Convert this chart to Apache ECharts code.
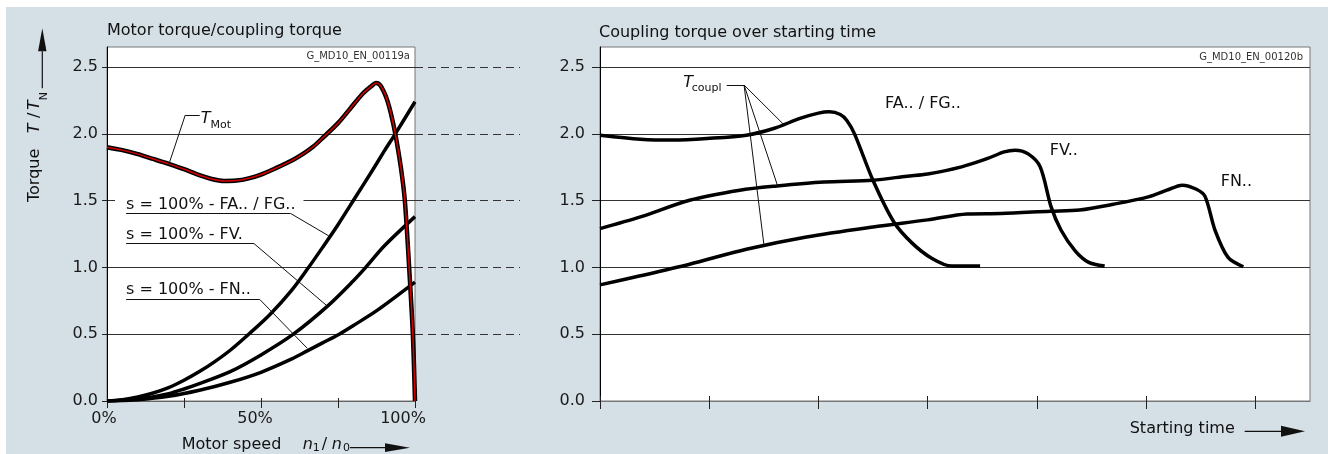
<!DOCTYPE html>
<html>
<head>
    <meta charset="utf-8">
    <title>Motor torque / coupling torque</title>
    <script src="https://cdn.jsdelivr.net/npm/echarts@6/dist/echarts.min.js"></script>
    <style>
        html, body { margin: 0; padding: 0; background: #fff; }
        #wrap { position: relative; width: 1328px; height: 454px; background: #fff; }
        #panel { position: absolute; left: 6px; top: 7px; width: 1322px; height: 447px; background: #d5dfe6; }
        #chart { position: absolute; left: 0; top: 0; width: 1328px; height: 454px; }
    </style>
</head>
<body>
<div id="wrap">
    <div id="panel"></div>
    <div id="chart"></div>
</div>

<script type="text/javascript">

    // ticks / labels
    var yTicks = [0, 0.5, 1.0, 1.5, 2.0, 2.5];
    var speedTicks = [0, 25, 50, 75, 100];
    var speedLabels = [0, 50, 100];
    var timeTicks = [0, 1, 2, 3, 4, 5, 6];

    // left: torque over motor speed n1/n0 (%), [speed, T/TN]
    var motorTorque = [[0, 1.90], [5, 1.878], [10, 1.848], [15, 1.812], [20, 1.775], [25, 1.735], [30, 1.69],
        [34, 1.662], [38, 1.647], [42, 1.65], [46, 1.667], [50, 1.695], [55, 1.745], [60, 1.80], [63, 1.84],
        [67, 1.905], [70.5, 1.98], [75, 2.08], [79, 2.19], [83, 2.30], [86, 2.36], [87.3, 2.38], [88.5, 2.37],
        [90, 2.31], [91, 2.25], [92.2, 2.15], [93.6, 2.0], [95.4, 1.75], [96.7, 1.5], [98.1, 1.0], [99.3, 0.5], [100, 0]];
    var couplFA = [[0, 0], [5, 0.01], [10, 0.03], [15, 0.06], [20, 0.10], [25, 0.155], [30, 0.22], [35, 0.295],
        [40, 0.38], [46, 0.50], [53, 0.65], [60, 0.83], [65.3, 0.995], [70, 1.15], [75, 1.32], [80.5, 1.52],
        [86, 1.72], [90, 1.87], [93.6, 2.0], [100, 2.24]];
    var couplFV = [[0, 0], [10, 0.015], [20, 0.055], [25, 0.09], [30, 0.13], [40, 0.22], [50, 0.345],
        [60.5, 0.50], [71.6, 0.71], [80, 0.90], [84, 1.0], [90, 1.16], [100, 1.38]];
    var couplFN = [[0, 0], [10, 0.01], [20, 0.035], [30, 0.08], [40, 0.14], [50, 0.215], [60, 0.315],
        [65, 0.375], [70, 0.435], [75.4, 0.50], [80, 0.565], [87.8, 0.68], [100, 0.89]];

    // right: coupling torque over starting time, [time, T/TN]
    var startFA = [[0, 1.99], [0.37, 1.96], [0.67, 1.953], [0.98, 1.965], [1.34, 1.99], [1.59, 2.04], [1.83, 2.115],
        [2.0, 2.155], [2.1, 2.165], [2.2, 2.145], [2.26, 2.10], [2.33, 2.0], [2.5, 1.65], [2.69, 1.34],
        [2.86, 1.18], [3.04, 1.067], [3.22, 1.01], [3.48, 1.01]];
    var startFV = [[0, 1.29], [0.37, 1.378], [0.82, 1.503], [1.28, 1.578], [1.62, 1.61], [2.05, 1.64], [2.5, 1.653],
        [2.81, 1.683], [3.0, 1.70], [3.31, 1.753], [3.55, 1.816], [3.7, 1.865], [3.8, 1.878], [3.92, 1.85],
        [4.03, 1.753], [4.13, 1.453], [4.22, 1.28], [4.35, 1.124], [4.47, 1.04], [4.62, 1.01]];
    var startFN = [[0, 0.869], [0.37, 0.937], [0.82, 1.024], [1.34, 1.136], [1.89, 1.228], [2.5, 1.303], [3.0, 1.356],
        [3.36, 1.40], [3.67, 1.404], [4.12, 1.421], [4.39, 1.43], [4.7, 1.473], [5.02, 1.528], [5.19, 1.578],
        [5.33, 1.616], [5.46, 1.585], [5.54, 1.53], [5.63, 1.28], [5.75, 1.075], [5.89, 1.005]];

    // leader lines for the annotations (data coordinates)
    var leaderMot = [[[30.1, 2.14], [25.4, 2.14], [20.0, 1.766]]];
    var leaderFA = [[[6.2, 1.404], [59.6, 1.404], [72.0, 1.236]]];
    var leaderFV = [[[6.2, 1.179], [47.7, 1.179], [71.6, 0.709]]];
    var leaderFN = [[[6.2, 0.76], [49.6, 0.76], [65.0, 0.395]]];
    var leaderCoupl = [[[1.16, 2.365], [1.319, 2.365], [1.688, 2.065]],
        [[1.319, 2.365], [1.624, 1.615]],
        [[1.319, 2.365], [1.502, 1.161]]];

    var FONT = 'DejaVu Sans';
    var INK = '#111';

    function leader(lines) {
        var data = [];
        lines.forEach(function (p) {
            for (var i = 0; i < p.length - 1; i++) {
                data.push([{coord: p[i]}, {coord: p[i + 1]}]);
            }
        });
        return {
            silent: true,
            animation: false,
            symbol: ['none', 'none'],
            label: {show: false},
            emphasis: {disabled: true},
            lineStyle: {color: INK, width: 1, type: 'solid'},
            data: data
        };
    }

    function curve(name, data, xi, yi, width, color, lines) {
        var s = {
            name: name,
            type: 'line',
            xAxisIndex: xi,
            yAxisIndex: yi,
            data: data,
            smooth: 0.3,
            symbol: 'none',
            silent: true,
            lineStyle: {color: color, width: width, join: 'round'}
        };
        if (lines) s.markLine = leader(lines);
        return s;
    }

    function txt(x, y, s, size, opt) {
        var style = {text: s, fontFamily: FONT, fontSize: size, fill: INK, align: 'left', verticalAlign: 'middle'};
        for (var k in opt) style[k] = opt[k];
        return {type: 'text', x: x, y: y, z: 100, silent: true, style: style};
    }

    function arrow(x1, y1, x2, y2, tip, half) {
        // line then filled head, head points from (x1,y1) to (x2,y2)
        var dx = x2 - x1, dy = y2 - y1, len = Math.sqrt(dx * dx + dy * dy);
        var ux = dx / len, uy = dy / len;
        var bx = x2 - ux * tip, by = y2 - uy * tip;
        return [
            {type: 'line', z: 100, silent: true, shape: {x1: x1, y1: y1, x2: bx, y2: by}, style: {stroke: INK, lineWidth: 1.2}},
            {type: 'polygon', z: 100, silent: true,
                shape: {points: [[x2, y2], [bx - uy * half, by + ux * half], [bx + uy * half, by - ux * half]]},
                style: {fill: INK}}
        ];
    }

    function yAxisFor(grid, tickLen, margin) {
        return {
            gridIndex: grid,
            type: 'value',
            min: 0,
            max: 2.65,
            interval: 0.5,
            axisLine: {show: true, lineStyle: {color: '#000', width: 1}},
            axisTick: {show: true, length: tickLen, customValues: yTicks, lineStyle: {color: '#222'}},
            axisLabel: {
                customValues: yTicks, margin: margin,
                fontFamily: FONT, fontSize: 16, color: '#1a1a1a',
                formatter: function (v) { return v.toFixed(1); }
            },
            splitLine: {show: true, showMinLine: false, lineStyle: {color: '#333', width: 1}}
        };
    }

    var chart = echarts.init(document.getElementById('chart'));

    var graphics = [
        txt(107, 31, 'Motor torque/coupling torque', 16),
        txt(599, 32.5, 'Coupling torque over starting time', 16),
        txt(410, 56.3, 'G_MD10_EN_00119a', 10, {align: 'right', fill: '#333'}),
        txt(1303, 57.8, 'G_MD10_EN_00120b', 10, {align: 'right', fill: '#333'}),

        txt(200.7, 119.2, 'T', 16, {fontStyle: 'italic'}),
        txt(210.5, 125, 'Mot', 11),
        txt(126, 234.9, 's = 100% - FV.', 16),
        txt(126, 290.2, 's = 100% - FN..', 16),

        txt(683.3, 82.9, 'T', 16, {fontStyle: 'italic'}),
        txt(691.7, 88, 'coupl', 11),
        txt(885, 104.2, 'FA.. / FG..', 16),
        txt(1049.7, 150.9, 'FV..', 16),
        txt(1220.7, 181.5, 'FN..', 16),

        txt(181.7, 445.2, 'Motor speed', 16),
        txt(302.7, 445.2, 'n', 16, {fontStyle: 'italic'}),
        txt(312.7, 448.5, '1', 11),
        txt(321.7, 445.2, '/', 16),
        txt(331.7, 445.2, 'n', 16, {fontStyle: 'italic'}),
        txt(343, 448.5, '0', 11),
        txt(1129.7, 428.9, 'Starting time', 16),

        {
            type: 'group', x: 41, y: 202, rotation: Math.PI / 2,
            children: [
                txt(0, -5.8, 'Torque', 16),
                txt(68.7, -5.8, 'T', 16, {fontStyle: 'italic'}),
                txt(84, -5.8, '/', 16),
                txt(92, -5.8, 'T', 16, {fontStyle: 'italic'}),
                txt(101.7, 3.3, 'N', 11)
            ]
        }
    ];
    // label that masks the 1.5 grid line, kept under the leader line
    var faLabel = txt(115, 204.9, 's = 100% - FA.. / FG..', 16, {backgroundColor: '#fff', padding: [1, 8, 1, 11]});
    faLabel.z = 1;
    graphics.push(faLabel);
    graphics = graphics.concat(arrow(42.3, 88.3, 42.3, 28.3, 23, 4.2));
    graphics = graphics.concat(arrow(350, 447.7, 410, 447.7, 25, 4.4));
    graphics = graphics.concat(arrow(1244.7, 431.3, 1305, 431.3, 24, 5.5));

    var option = {
        animation: false,
        graphic: graphics,
        grid: [
            {left: 107, top: 47, width: 308, height: 354, show: true, backgroundColor: '#fff', borderColor: '#777', borderWidth: 1},
            {left: 600, top: 47, width: 710, height: 354, show: true, backgroundColor: '#fff', borderColor: '#777', borderWidth: 1},
            {left: 415, top: 67, width: 105, height: 334}
        ],
        xAxis: [
            {
                gridIndex: 0, type: 'value', min: 0, max: 100, interval: 25, position: 'bottom',
                axisLine: {show: true, lineStyle: {color: '#666'}},
                axisTick: {show: true, length: 7, customValues: speedTicks, lineStyle: {color: '#222'}},
                axisLabel: {
                    customValues: speedLabels, margin: 10,
                    formatter: function (v) { return '{p' + v + '|' + v + '%}'; },
                    rich: {
                        p0: {fontFamily: FONT, fontSize: 16, color: '#1a1a1a', padding: [0, 6, 0, 0]},
                        p50: {fontFamily: FONT, fontSize: 16, color: '#1a1a1a', padding: [0, 12, 0, 0]},
                        p100: {fontFamily: FONT, fontSize: 16, color: '#1a1a1a', padding: [0, 24, 0, 0]}
                    }
                },
                splitLine: {show: false}
            },
            {
                gridIndex: 0, type: 'value', min: 0, max: 100, interval: 25, position: 'bottom',
                axisLine: {show: false},
                axisTick: {show: true, inside: true, length: 3, customValues: speedTicks, lineStyle: {color: '#222'}},
                axisLabel: {show: false},
                splitLine: {show: false}
            },
            {
                gridIndex: 1, type: 'value', min: 0, max: 6.5, interval: 1, position: 'bottom',
                axisLine: {show: true, lineStyle: {color: '#777'}},
                axisTick: {show: true, length: 8, customValues: timeTicks, lineStyle: {color: '#222'}},
                axisLabel: {show: false},
                splitLine: {show: false}
            },
            {
                gridIndex: 1, type: 'value', min: 0, max: 6.5, interval: 1, position: 'bottom',
                axisLine: {show: false},
                axisTick: {show: true, inside: true, length: 5, customValues: timeTicks, lineStyle: {color: '#222'}},
                axisLabel: {show: false},
                splitLine: {show: false}
            },
            {gridIndex: 2, type: 'value', min: 0, max: 1, show: false}
        ],
        yAxis: [
            yAxisFor(0, 5, 9),
            yAxisFor(1, 8, 15),
            {
                gridIndex: 2, type: 'value', min: 0, max: 2.5, interval: 0.5,
                axisLine: {show: false}, axisTick: {show: false}, axisLabel: {show: false},
                splitLine: {show: true, showMinLine: false, showMaxLine: true, lineStyle: {color: '#333', width: 1, type: [8, 5]}}
            }
        ],
        series: [
            curve('FA.. / FG..', couplFA, 0, 0, 3.5, '#000', leaderFA),
            curve('FV.', couplFV, 0, 0, 3.5, '#000', leaderFV),
            curve('FN..', couplFN, 0, 0, 3.5, '#000', leaderFN),
            curve('T Mot', motorTorque, 0, 0, 4.5, '#000', leaderMot),
            curve('T Mot core', motorTorque, 0, 0, 1.5, '#d40000'),

            curve('FA.. / FG..', startFA, 2, 1, 3.5, '#000', leaderCoupl),
            curve('FV..', startFV, 2, 1, 3.5, '#000'),
            curve('FN..', startFN, 2, 1, 3.5, '#000')
        ]
    };

    chart.setOption(option);

</script>
</body>
</html>
